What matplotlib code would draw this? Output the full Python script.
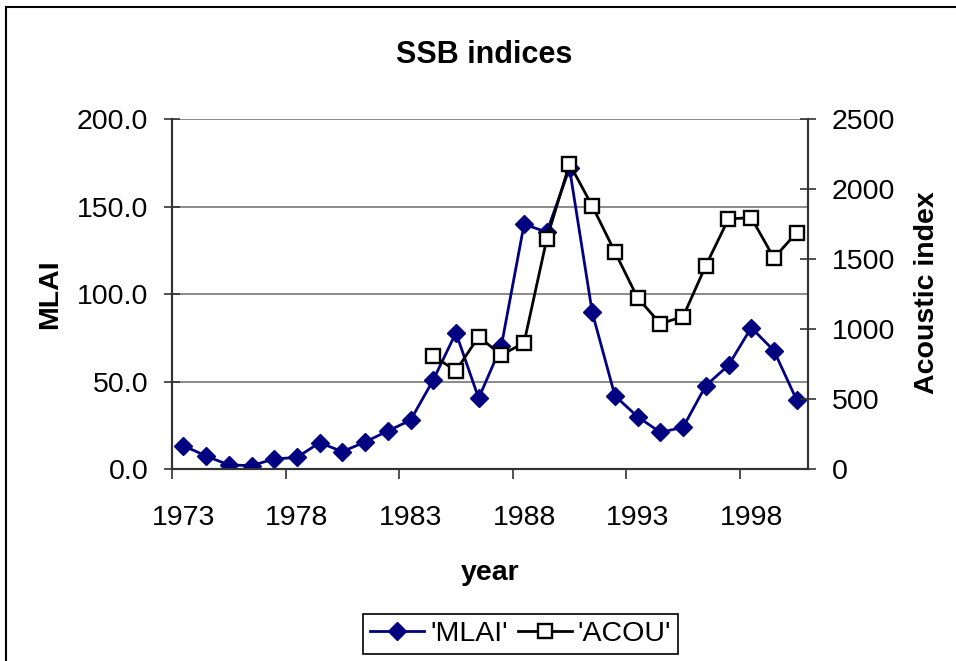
import matplotlib
matplotlib.use("Agg")
import matplotlib.pyplot as plt
from matplotlib.patches import Rectangle
from matplotlib.lines import Line2D
import numpy as np

plt.rcParams['font.family'] = ['Liberation Sans', 'DejaVu Sans']

years = [1973, 1974, 1975, 1976, 1977, 1978, 1979, 1980, 1981, 1982,
         1983, 1984, 1985, 1986, 1987, 1988, 1989, 1990, 1991, 1992,
         1993, 1994, 1995, 1996, 1997, 1998, 1999, 2000]
mlai = [13.5, 7.6, 2.5, 2.1, 5.9, 6.8, 15.2, 10.1, 15.6, 21.9,
        28.0, 51.0, 78.0, 40.6, 70.5, 140.0, 135.5, 172.0, 89.7, 42.0,
        30.0, 21.1, 24.0, 47.8, 59.4, 80.9, 67.8, 39.6]
acou_years = [1984, 1985, 1986, 1987, 1988, 1989, 1990, 1991, 1992,
              1993, 1994, 1995, 1996, 1997, 1998, 1999, 2000]
acou = [809, 704, 947, 816, 904, 1645, 2181, 1881, 1552,
        1224, 1040, 1090, 1454, 1788, 1797, 1509, 1690]
label_years = [1973, 1978, 1983, 1988, 1993, 1998]

W, H = 956, 661
fig = plt.figure(figsize=(W / 100, H / 100), dpi=100)

# outer chart frame
fig.add_artist(Rectangle((6 / W, -0.2), 2.0, 1.2 - 7 / H, transform=fig.transFigure,
                         fill=False, edgecolor='black', linewidth=1.5))

ax = fig.add_axes([172 / W, 1 - 469.3 / H, (808 - 172) / W, (469.3 - 119.2) / H])
ax2 = ax.twinx()

xi = [years.index(y) for y in years]
xa = [years.index(y) for y in acou_years]

ax.set_xlim(-0.5, len(years) - 0.5)
ax.set_ylim(0, 200)
ax2.set_ylim(0, 2500)

for v in [50, 100, 150, 200]:
    ax.axhline(v, color='#808080', linewidth=1.3, zorder=0)

navy = '#000080'
l1, = ax.plot(xi, mlai, color=navy, linewidth=2.0, marker='D', markersize=9,
              markerfacecolor=navy, markeredgecolor=navy, zorder=3)
l2, = ax2.plot(xa, acou, color='black', linewidth=2.0, marker='s', markersize=9.5,
               markerfacecolor='white', markeredgecolor='black', markeredgewidth=1.7, zorder=3)

# x axis: ticks at category boundaries, labels at category centres
lab_idx = [years.index(y) for y in label_years]
ax.set_xticks([i - 0.5 for i in lab_idx])
ax.set_xticklabels([])
ax.set_xticks(lab_idx, minor=True)
ax.set_xticklabels([str(y) for y in label_years], minor=True)
ax.tick_params(axis='x', which='major', direction='out', length=7, width=1.2, color='#333333')
ax.tick_params(axis='x', which='minor', length=0, pad=26, labelsize=20.5)

ax.set_yticks([0, 50, 100, 150, 200])
ax.set_yticklabels(['%.1f' % v for v in [0, 50, 100, 150, 200]])
ax.tick_params(axis='y', direction='inout', length=12, width=1.2, color='#333333',
               labelsize=20.5, pad=11)
ax2.set_yticks([0, 500, 1000, 1500, 2000, 2500])
ax2.set_yticklabels([str(v) for v in [0, 500, 1000, 1500, 2000, 2500]])
ax2.tick_params(axis='y', direction='inout', length=12, width=1.2, color='#333333',
                labelsize=20.5, pad=11)

for a in (ax, ax2):
    a.spines['top'].set_visible(False)
    for s in ('left', 'right', 'bottom'):
        a.spines[s].set_color('#333333')
        a.spines[s].set_linewidth(1.5)
ax.patch.set_visible(False)

fig.text(484 / W, 1 - 55 / H, 'SSB indices', ha='center', va='center',
         fontsize=22, fontweight='bold')
fig.text(50 / W, 1 - 294 / H, 'MLAI', ha='center', va='center', rotation=90,
         fontsize=20.5, fontweight='bold')
fig.text(927 / W, 1 - 293 / H, 'Acoustic index', ha='center', va='center', rotation=90,
         fontsize=20.5, fontweight='bold')
fig.text(490 / W, 1 - 573 / H, 'year', ha='center', va='center',
         fontsize=20.5, fontweight='bold')

h1 = Line2D([], [], color=navy, linewidth=2.0, marker='D', markersize=9,
            markerfacecolor=navy, markeredgecolor=navy)
h2 = Line2D([], [], color='black', linewidth=2.0, marker='s', markersize=9.5,
            markerfacecolor='white', markeredgecolor='black', markeredgewidth=1.7)
leg = fig.legend([h1, h2], ["'MLAI'", "'ACOU'"], loc='center',
                 bbox_to_anchor=(520.5 / W, 1 - 634 / H), ncol=2, fontsize=20.5,
                 frameon=True, fancybox=False, edgecolor='black', framealpha=1,
                 handlelength=1.9, handletextpad=0.2, columnspacing=0.35,
                 borderpad=0.25, borderaxespad=0, numpoints=1)
leg.get_frame().set_linewidth(1.2)

fig.savefig('out.png', dpi=100)
